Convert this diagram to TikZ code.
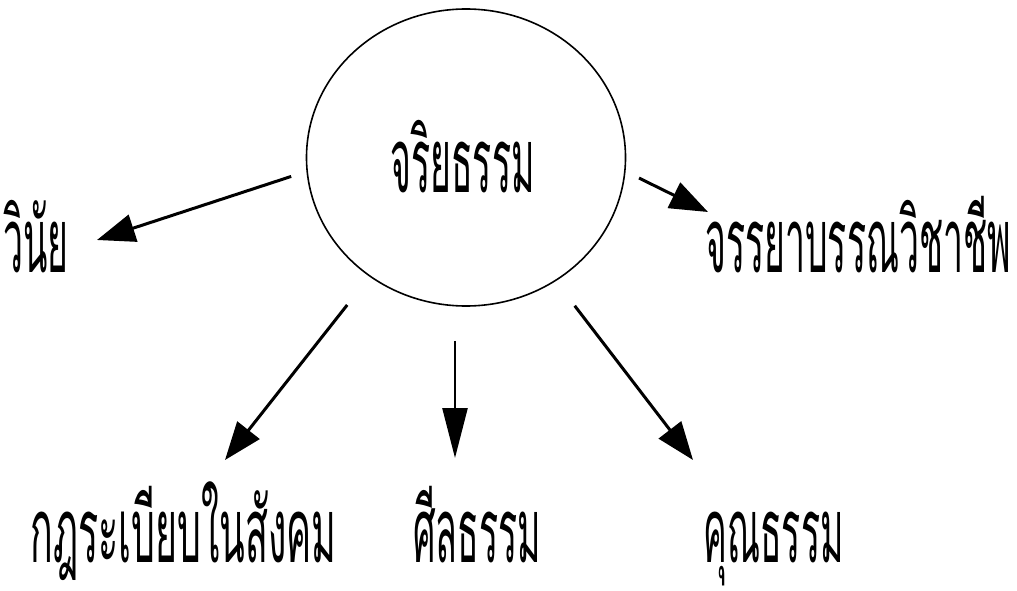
\documentclass[tikz,border=0pt]{standalone}
\usepackage{fontspec}
\newfontfamily\thaifont[Script=Thai]{Loma}
\usetikzlibrary{shapes.geometric,arrows.meta}
\tikzset{
  lbl/.style={font=\thaifont\fontsize{20}{24}\selectfont, inner sep=0pt, anchor=base west, text depth=5pt, xscale=#1, yscale=4.5},
  lbl/.default=1.78,
  conn/.style={line width=3pt, -{Triangle[length=38pt,width=28pt]}},
  bubble/.style={draw, ellipse, line width=1.6pt, inner sep=0pt, minimum width=319pt, minimum height=297pt}
}
\begin{document}
\begin{tikzpicture}[x=1pt,y=-1pt]
\useasboundingbox (0,0) rectangle (1017,591);
\node[bubble] (c) at (466,157.5) {};
\node[lbl] (ct) at (390,192) {จริยธรรม};
\node[lbl] (l1) at (3,272) {วินัย};
\node[lbl] (l2) at (705,272) {จรรยาบรรณวิชาชีพ};
\node[lbl=1.88] (l3) at (30,562) {กฎระเบียบในสังคม};
\node[lbl] (l4) at (413,562) {ศีลธรรม};
\node[lbl] (l5) at (703,562) {คุณธรรม};
\coordinate (t1) at (97,240);
\coordinate (t2) at (708,212);
\coordinate (t3) at (225,460);
\coordinate (t4) at (455,458);
\coordinate (t5) at (693,460);
\draw[conn, shorten <=16pt] (c.185) -- (t1);
\draw[conn, shorten <=15pt] (c.355) -- (t2);
\draw[conn, shorten <=36pt] (c.231.5) -- (t3);
\draw[line width=2.5pt, -{Triangle[length=50pt,width=25pt]}, shorten <=34pt] (c.south -| t4) -- (t4);
\draw[conn, shorten <=31pt] (c.306.6) -- (t5);
\end{tikzpicture}
\end{document}
